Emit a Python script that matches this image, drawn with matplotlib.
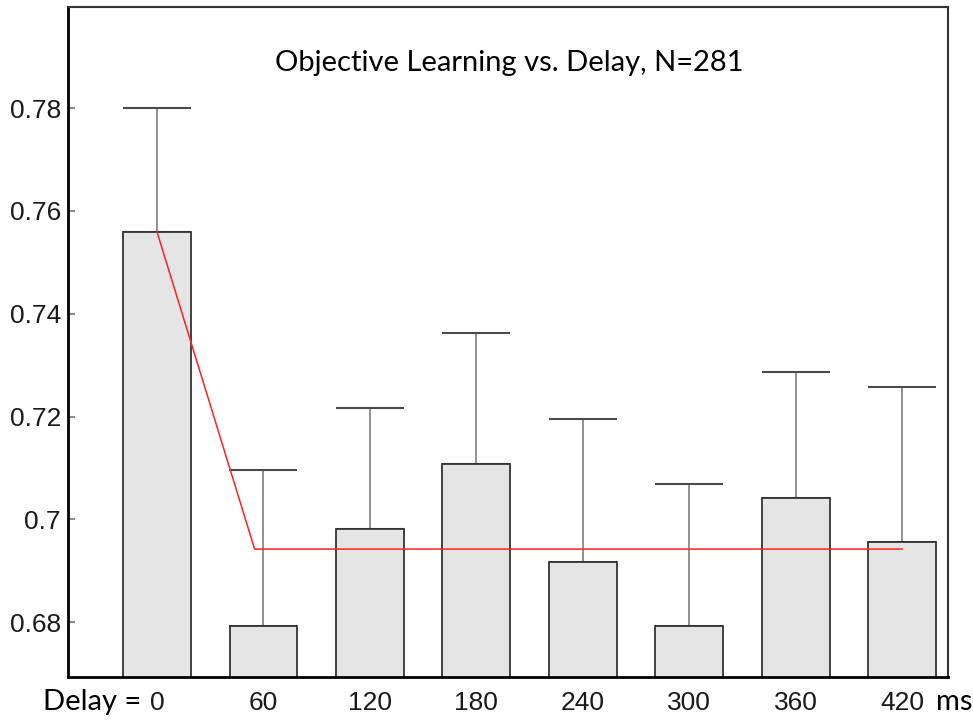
import matplotlib.pyplot as plt

# mean objective learning per delay (ms), with the upper end of each error bar
delays = [0, 60, 120, 180, 240, 300, 360, 420]
means = [0.7559, 0.6793, 0.6982, 0.7108, 0.6917, 0.6793, 0.7041, 0.6956]
upper = [0.7800, 0.7096, 0.7216, 0.7362, 0.7195, 0.7068, 0.7286, 0.7257]

# fitted piecewise model (red line)
fit_x = [0, 55, 420]
fit_y = [0.7559, 0.6942, 0.6942]

yticks = [0.68, 0.70, 0.72, 0.74, 0.76, 0.78]
ytick_labels = ['0.68', '0.7', '0.72', '0.74', '0.76', '0.78']

fig = plt.figure(figsize=(9.73, 7.21), dpi=100)
ax = fig.add_axes([0.0699, 0.061, 0.9044, 0.9293])

errs = [u - m for u, m in zip(upper, means)]
eb = ax.errorbar(delays, means, yerr=[[0] * len(means), errs], fmt='none',
                 ecolor='#909090', elinewidth=1.4, capsize=24.5, capthick=1.5,
                 zorder=1)
for cap in eb[1]:
    cap.set_markeredgecolor('#4a4a4a')

ax.bar(delays, means, width=38.3, bottom=0, color='#e5e5e5',
       edgecolor='#333333', linewidth=1.3, zorder=2)

ax.plot(fit_x, fit_y, color='#ff2020', linewidth=1.1, zorder=3)

ax.set_xlim(-50.2, 445.9)
ax.set_ylim(0.6693, 0.7997)

ax.set_yticks(yticks)
ax.set_yticklabels(ytick_labels, fontfamily='Liberation Sans', fontsize=19,
                   color='#1a1a1a')
ax.tick_params(axis='y', direction='in', length=5, width=1.2, color='#777777',
               pad=5)

ax.set_xticks(delays)
ax.set_xticklabels([str(d) for d in delays], fontfamily='Liberation Sans',
                   fontsize=19, color='#1a1a1a')
ax.tick_params(axis='x', length=0, pad=10)

for side in ['left', 'bottom']:
    ax.spines[side].set_linewidth(2)
    ax.spines[side].set_color('black')
for side in ['top', 'right']:
    ax.spines[side].set_linewidth(1.5)
    ax.spines[side].set_color('#333333')

ax.text(-9.0, -0.037, 'Delay =', transform=ax.get_xaxis_transform(),
        ha='right', va='center', fontfamily='Lato', fontsize=21, color='black')
ax.text(439, -0.037, 'ms', transform=ax.get_xaxis_transform(),
        ha='left', va='center', fontfamily='Lato', fontsize=21, color='black')

ax.text(0.501, 0.917, 'Objective Learning vs. Delay, N=281',
        transform=ax.transAxes, ha='center', va='center',
        fontfamily='Lato', fontsize=21, color='black')

fig.savefig('out.png', dpi=100)
